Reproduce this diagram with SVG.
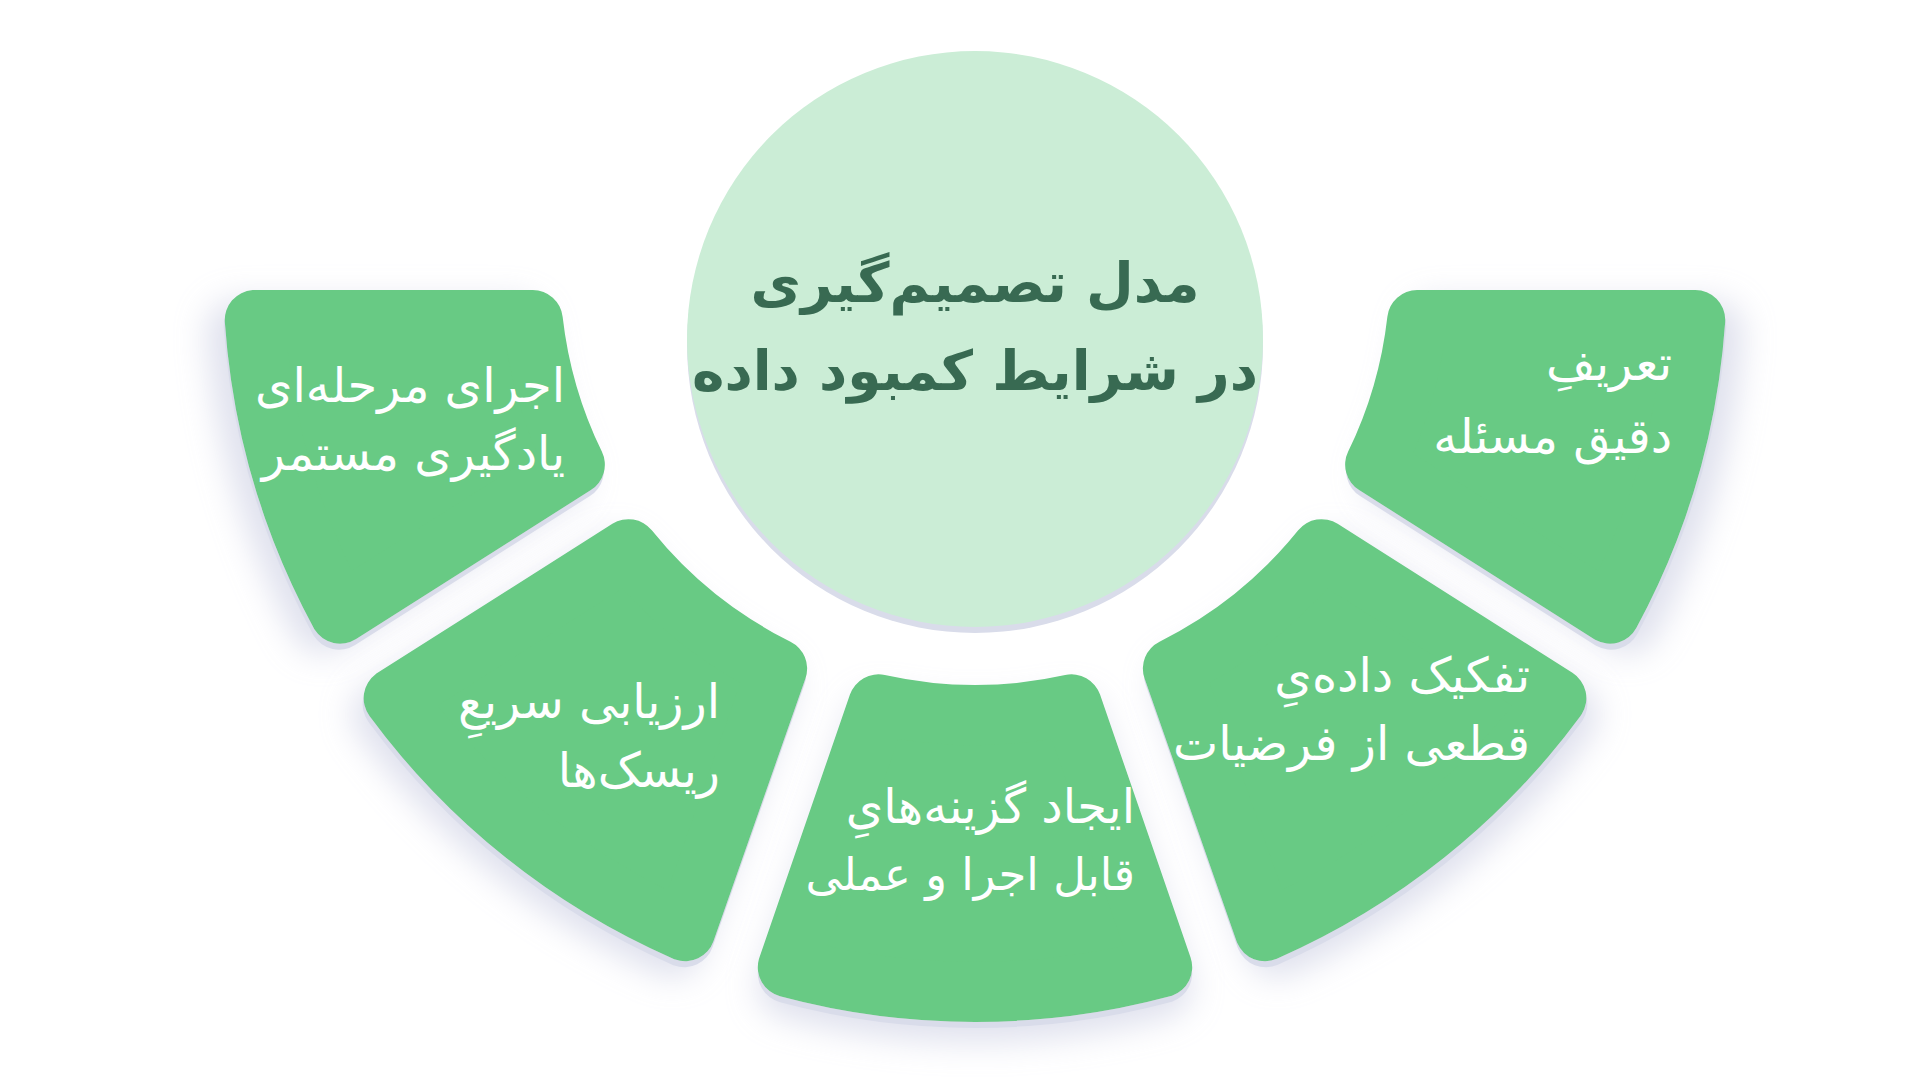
<svg xmlns="http://www.w3.org/2000/svg" width="1920" height="1080" viewBox="0 0 1920 1080">
<style>
.seg{fill:#68CA84;stroke:#68CA84;stroke-width:60;stroke-linejoin:round}
.lbl{font-family:"DejaVu Sans",sans-serif;font-size:48px;fill:#ffffff;text-anchor:end}
.ttl{font-family:"DejaVu Sans",sans-serif;font-weight:bold;font-size:55px;fill:#386A52;text-anchor:middle}
</style>
<defs>
<filter id="shA" x="-30%" y="-30%" width="160%" height="160%">
<feGaussianBlur in="SourceAlpha" stdDeviation="16" result="b"/><feOffset in="b" dx="18" dy="10" result="bo"/>
<feFlood flood-color="#b8bcd8" flood-opacity="0.45"/><feComposite in2="bo" operator="in" result="soft"/>
<feOffset in="SourceAlpha" dx="1" dy="6" result="e"/><feFlood flood-color="#d9dcea"/><feComposite in2="e" operator="in" result="edge"/>
<feMerge><feMergeNode in="soft"/><feMergeNode in="edge"/><feMergeNode in="SourceGraphic"/></feMerge>
</filter>
<filter id="shB" x="-30%" y="-30%" width="160%" height="160%">
<feGaussianBlur in="SourceAlpha" stdDeviation="16" result="b"/><feOffset in="b" dx="12" dy="16" result="bo"/>
<feFlood flood-color="#b8bcd8" flood-opacity="0.45"/><feComposite in2="bo" operator="in" result="soft"/>
<feOffset in="SourceAlpha" dx="1" dy="6" result="e"/><feFlood flood-color="#d9dcea"/><feComposite in2="e" operator="in" result="edge"/>
<feMerge><feMergeNode in="soft"/><feMergeNode in="edge"/><feMergeNode in="SourceGraphic"/></feMerge>
</filter>
<filter id="shC" x="-30%" y="-30%" width="160%" height="160%">
<feGaussianBlur in="SourceAlpha" stdDeviation="16" result="b"/><feOffset in="b" dx="0" dy="20" result="bo"/>
<feFlood flood-color="#b8bcd8" flood-opacity="0.45"/><feComposite in2="bo" operator="in" result="soft"/>
<feOffset in="SourceAlpha" dx="0" dy="6" result="e"/><feFlood flood-color="#d9dcea"/><feComposite in2="e" operator="in" result="edge"/>
<feMerge><feMergeNode in="soft"/><feMergeNode in="edge"/><feMergeNode in="SourceGraphic"/></feMerge>
</filter>
<filter id="shD" x="-30%" y="-30%" width="160%" height="160%">
<feGaussianBlur in="SourceAlpha" stdDeviation="16" result="b"/><feOffset in="b" dx="-12" dy="16" result="bo"/>
<feFlood flood-color="#b8bcd8" flood-opacity="0.45"/><feComposite in2="bo" operator="in" result="soft"/>
<feOffset in="SourceAlpha" dx="-1" dy="6" result="e"/><feFlood flood-color="#d9dcea"/><feComposite in2="e" operator="in" result="edge"/>
<feMerge><feMergeNode in="soft"/><feMergeNode in="edge"/><feMergeNode in="SourceGraphic"/></feMerge>
</filter>
<filter id="shE" x="-30%" y="-30%" width="160%" height="160%">
<feGaussianBlur in="SourceAlpha" stdDeviation="16" result="b"/><feOffset in="b" dx="-18" dy="10" result="bo"/>
<feFlood flood-color="#b8bcd8" flood-opacity="0.45"/><feComposite in2="bo" operator="in" result="soft"/>
<feOffset in="SourceAlpha" dx="-1" dy="6" result="e"/><feFlood flood-color="#d9dcea"/><feComposite in2="e" operator="in" result="edge"/>
<feMerge><feMergeNode in="soft"/><feMergeNode in="edge"/><feMergeNode in="SourceGraphic"/></feMerge>
</filter>
</defs>
<rect width="1920" height="1080" fill="#ffffff"/>
<g id="center">
<circle cx="975" cy="345" r="288" fill="#d9dcea"/>
<circle cx="975" cy="339" r="288" fill="#CBEDD6"/>
<text class="ttl" x="975" y="302">مدل تصمیم‌گیری</text>
<text class="ttl" x="975" y="390">در شرایط کمبود داده</text>
</g>
<g id="node-define">
<path class="seg" filter="url(#shA)" d="M1417.18,320 L1695.27,320 A722,722 0 0 1 1609.94,613.72 L1375.14,464.71 A445,445 0 0 0 1417.18,320 Z"/>
<text class="lbl" x="1672" y="380">تعریفِ</text>
<text class="lbl" x="1672" y="453">دقیق مسئله</text>
</g>
<g id="node-separate">
<path class="seg" filter="url(#shB)" d="M1321.56,549.15 L1556.36,698.16 A722,722 0 0 1 1264.84,931.26 L1172.86,668.59 A445,445 0 0 0 1321.56,549.15 Z"/>
<text class="lbl" x="1530" y="692">تفکیک داده‌یِ</text>
<text class="lbl" x="1530" y="760">قطعی از فرضیات</text>
</g>
<g id="node-options">
<path class="seg" filter="url(#shC)" d="M1071.68,704.37 L1162.22,967.31 A722,722 0 0 1 787.78,967.31 L878.32,704.37 A445,445 0 0 0 1071.68,704.37 Z"/>
<text class="lbl" x="1135" y="823">ایجاد گزینه‌هایِ</text>
<text class="lbl" x="1135" y="890" style="font-size:45px">قابل اجرا و عملی</text>
</g>
<g id="node-risk">
<path class="seg" filter="url(#shD)" d="M777.14,668.59 L685.16,931.26 A722,722 0 0 1 393.64,698.16 L628.44,549.15 A445,445 0 0 0 777.14,668.59 Z"/>
<text class="lbl" x="720" y="718">ارزیابی سریعِ</text>
<text class="lbl" x="720" y="787">ریسک‌ها</text>
</g>
<g id="node-iterate">
<path class="seg" filter="url(#shE)" d="M574.86,464.71 L340.06,613.72 A722,722 0 0 1 254.73,320 L532.82,320 A445,445 0 0 0 574.86,464.71 Z"/>
<text class="lbl" x="565" y="402">اجرای مرحله‌ای</text>
<text class="lbl" x="565" y="470">یادگیری مستمر</text>
</g>
</svg>
